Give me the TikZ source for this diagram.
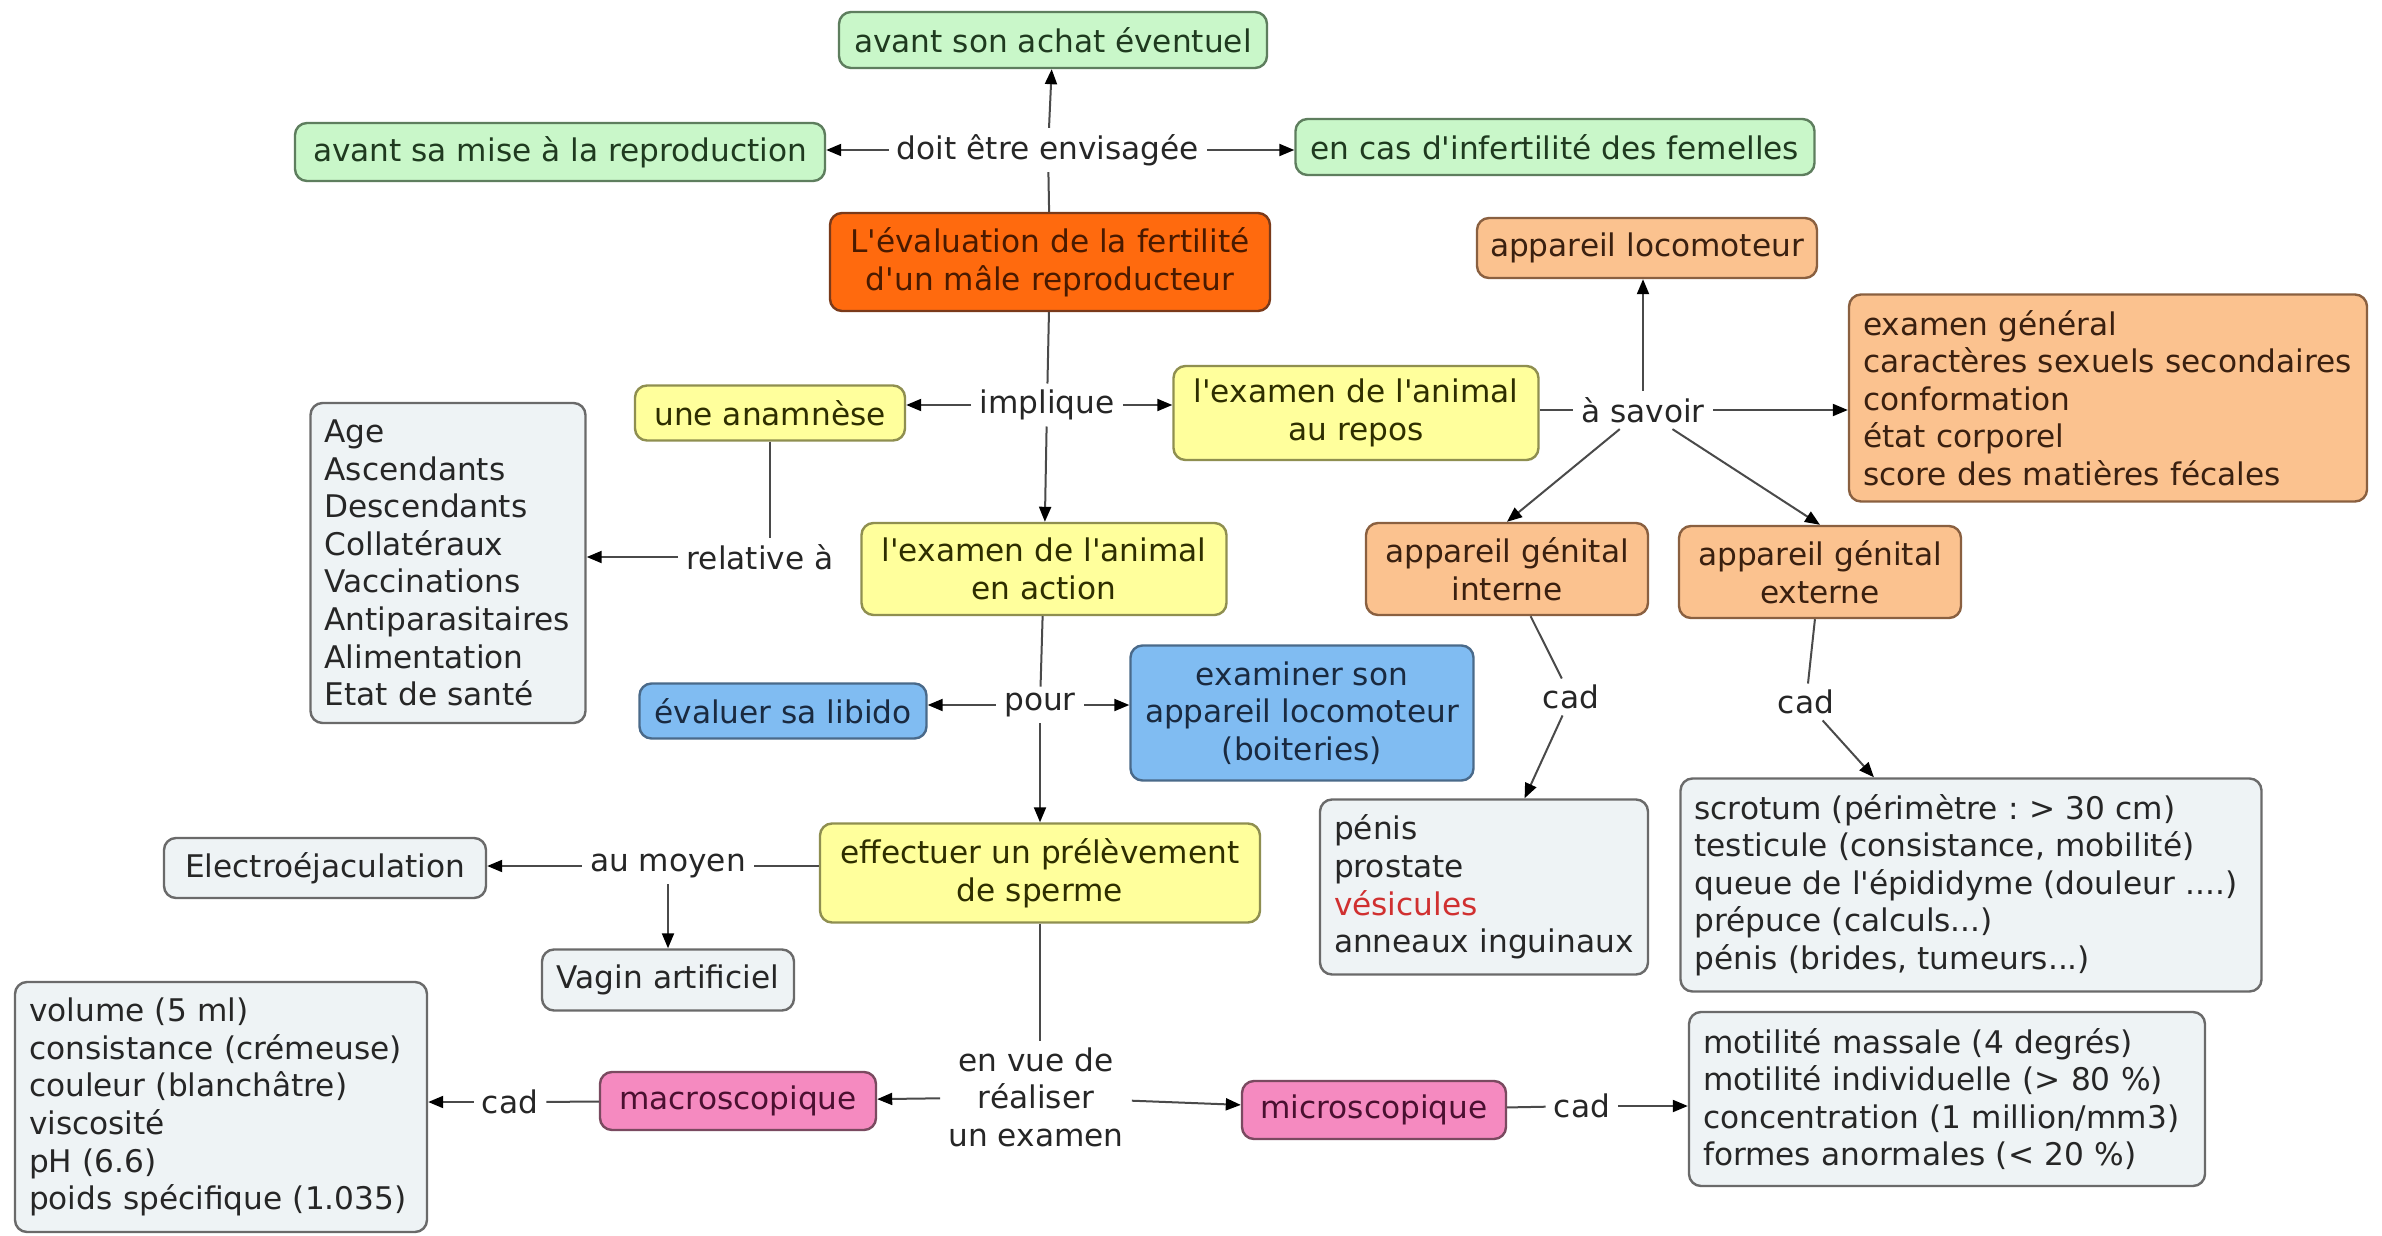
\documentclass[tikz,border=0pt]{standalone}
\usepackage{fontspec}
\setmainfont{DejaVu Sans}[Ligatures=TeXOff]
\usetikzlibrary{arrows.meta}
\frenchspacing
\definecolor{txt}{HTML}{262626}
\definecolor{lin}{HTML}{4A4A4A}
\definecolor{gfill}{HTML}{C9F7C9}\definecolor{gdraw}{HTML}{5E7E5E}\definecolor{gtxt}{HTML}{1F3A1F}
\definecolor{ofill}{HTML}{FF6A0E}\definecolor{odraw}{HTML}{7A3A1A}\definecolor{otxt}{HTML}{4A1A00}
\definecolor{pfill}{HTML}{FBC28F}\definecolor{pdraw}{HTML}{8A6040}\definecolor{ptxt}{HTML}{3A2010}
\definecolor{yfill}{HTML}{FFFF9C}\definecolor{ydraw}{HTML}{8F8F50}\definecolor{ytxt}{HTML}{2E2E00}
\definecolor{bfill}{HTML}{80BCF2}\definecolor{bdraw}{HTML}{4A6A8A}\definecolor{btxt}{HTML}{1A2A40}
\definecolor{kfill}{HTML}{F58AC0}\definecolor{kdraw}{HTML}{7A4A60}\definecolor{ktxt}{HTML}{4A1030}
\definecolor{lfill}{HTML}{EEF3F5}\definecolor{ldraw}{HTML}{6A6A6A}
\definecolor{redt}{HTML}{D03030}
\newcommand{\mapfont}{\fontsize{15.6}{18.8}\selectfont\frenchspacing}
\begin{document}
\begin{tikzpicture}[x=0.5pt,y=-0.5pt,
  box/.style={draw, rounded corners=6pt, line width=1.2pt, inner sep=0pt, align=center, font=\mapfont},
  gbox/.style={box, fill=gfill, draw=gdraw, text=gtxt},
  obox/.style={box, fill=ofill, draw=odraw, text=otxt},
  pbox/.style={box, fill=pfill, draw=pdraw, text=ptxt},
  ybox/.style={box, fill=yfill, draw=ydraw, text=ytxt},
  bbox/.style={box, fill=bfill, draw=bdraw, text=btxt},
  kbox/.style={box, fill=kfill, draw=kdraw, text=ktxt},
  lbox/.style={box, fill=lfill, draw=ldraw, text=txt},
  listbox/.style={align=left, inner xsep=7pt},
  lab/.style={font=\mapfont, text=txt, inner xsep=4pt, inner ysep=3pt, align=center},
  con/.style={draw=lin, line width=1pt},
  arr/.style={con, -{Triangle[length=7.5pt,width=6pt,color=black]}}]
\useasboundingbox (0,0) rectangle (2382,1236);
\fill[white] (0,0) rectangle (2382,1236);

% nodes
\node[gbox, minimum width=214pt, minimum height=28pt] (achat) at (1053,40) {avant son achat éventuel};
\node[gbox, minimum width=265pt, minimum height=29pt] (mise) at (560,152) {avant sa mise à la reproduction};
\node[gbox, minimum width=259.5pt, minimum height=28pt] (infert) at (1555,147) {en cas d'infertilité des femelles};
\node[obox, minimum width=220pt, minimum height=49pt] (main) at (1050,262) {L'évaluation de la fertilité\\d'un mâle reproducteur};
\node[pbox, minimum width=170pt, minimum height=30pt] (loco) at (1647,248) {appareil locomoteur};
\node[pbox, listbox, text width=245pt, minimum height=103.5pt] (gen) at (2108,398) {examen général\\caractères sexuels secondaires\\conformation\\état corporel\\score des matières fécales};
\node[ybox, minimum width=182.5pt, minimum height=47pt] (repos) at (1356,413) {l'examen de l'animal\\au repos};
\node[pbox, minimum width=141pt, minimum height=46pt] (interne) at (1507,569) {appareil génital\\interne};
\node[pbox, minimum width=141pt, minimum height=46pt] (externe) at (1820,572) {appareil génital\\externe};
\node[ybox, minimum width=135pt, minimum height=27.5pt] (anam) at (770,413) {une anamnèse};
\node[ybox, minimum width=182.5pt, minimum height=46pt] (action) at (1044,569) {l'examen de l'animal\\en action};
\node[lbox, listbox, text width=123.5pt, minimum height=160pt] (age) at (448,563) {Age\\Ascendants\\Descendants\\Collatéraux\\Vaccinations\\Antiparasitaires\\Alimentation\\Etat de santé};
\node[bbox, minimum width=143.5pt, minimum height=27.5pt] (libido) at (783,711) {évaluer sa libido};
\node[bbox, minimum width=171.5pt, minimum height=67.5pt] (boit) at (1302,713) {examiner son\\appareil locomoteur\\(boiteries)};
\node[ybox, minimum width=220pt, minimum height=49.5pt] (prelev) at (1040,873) {effectuer un prélèvement\\de sperme};
\node[lbox, minimum width=161pt, minimum height=30pt] (electro) at (325,868) {Electroéjaculation};
\node[lbox, minimum width=126pt, minimum height=30.5pt] (vagin) at (668,980) {Vagin artificiel};
\node[lbox, listbox, text width=192pt, minimum height=125pt] (maclist) at (221,1107) {volume (5 ml)\\consistance (crémeuse)\\couleur (blanchâtre)\\viscosité\\pH (6.6)\\poids spécifique (1.035)};
\node[kbox, minimum width=138pt, minimum height=29pt] (macro) at (738,1101) {macroscopique};
\node[kbox, minimum width=132pt, minimum height=29pt] (micro) at (1374,1110) {microscopique};
\node[lbox, listbox, text width=244pt, minimum height=87pt] (miclist) at (1947,1099) {motilité massale (4 degrés)\\motilité individuelle (> 80 \%)\\concentration (1 million/mm3)\\formes anormales (< 20 \%)};
\node[lbox, listbox, text width=150pt, minimum height=87.5pt] (intlist) at (1484,887) {pénis\\prostate\\\textcolor{redt}{vésicules}\\anneaux inguinaux};
\node[lbox, listbox, text width=276.5pt, minimum height=106.5pt] (extlist) at (1971,885) {scrotum (périmètre : > 30 cm)\\testicule (consistance, mobilité)\\queue de l'épididyme (douleur ....)\\prépuce (calculs...)\\pénis (brides, tumeurs...)};

% labels
\node[lab] (doit) at (1048,150) {doit être envisagée};
\node[lab] (impl) at (1047,405) {implique};
\node[lab] (asav) at (1643,410) {à savoir};
\node[lab] (rel) at (760,557) {relative à};
\node[lab] (pour) at (1040,705) {pour};
\node[lab] (cadint) at (1571,697) {cad};
\node[lab] (cadext) at (1806,702) {cad};
\node[lab] (moyen) at (668,866) {au moyen};
\node[lab] (envue) at (1036,1097) {en vue de\\réaliser\\un examen};
\node[lab] (cadmac) at (510,1102) {cad};
\node[lab] (cadmic) at (1582,1106) {cad};

% connectors
\draw[con] (main) -- (doit);
\draw[arr] (doit) -- (achat);
\draw[arr] (doit.west) -- (doit.west -| mise.east);
\draw[arr] (doit.east) -- (doit.east -| infert.west);

\draw[con] (main) -- (impl);
\draw[arr] (impl.west) -- (impl.west -| anam.east);
\draw[arr] (impl.east) -- (impl.east -| repos.west);
\draw[arr] (impl) -- (action);

\draw[con] (repos.east |- asav.west) -- (asav.west);
\draw[arr] (asav.north) -- (asav.north |- loco.south);
\draw[arr] (asav.east) -- (asav.east -| gen.west);
\draw[arr] (asav) -- (interne.north);
\draw[arr] (asav) -- (externe.north);

\draw[con] (anam.south) -- (anam.south |- rel.north);
\draw[arr] (rel.west) -- (rel.west -| age.east);

\draw[con] (action) -- (pour);
\draw[arr] (pour.west) -- (pour.west -| libido.east);
\draw[arr] (pour.east) -- (pour.east -| boit.west);
\draw[arr] (pour) -- (prelev);

\draw[con] (moyen.east) -- (moyen.east -| prelev.west);
\draw[arr] (moyen.west) -- (moyen.west -| electro.east);
\draw[arr] (moyen.south) -- (moyen.south |- vagin.north);

\draw[con] (prelev.south) -- (prelev.south |- envue.north);
\draw[arr] (envue) -- (macro);
\draw[arr] (envue) -- (micro);

\draw[con] (macro) -- (cadmac);
\draw[arr] (cadmac.west) -- (cadmac.west -| maclist.east);
\draw[con] (micro) -- (cadmic);
\draw[arr] (cadmic.east) -- (cadmic.east -| miclist.west);

\draw[con] (interne) -- (cadint);
\draw[arr] (cadint) -- (intlist);
\draw[con] (externe) -- (cadext);
\draw[arr] (cadext) -- (extlist);
\end{tikzpicture}
\end{document}
